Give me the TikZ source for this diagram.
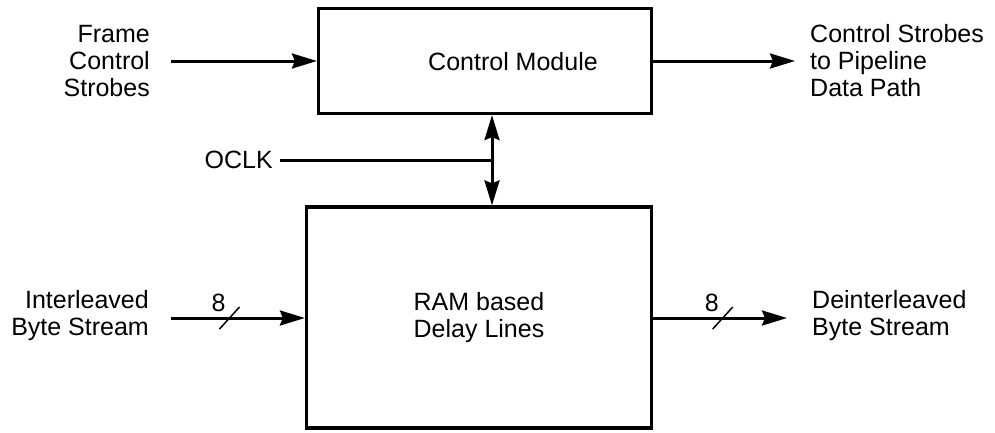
\documentclass[tikz,border=0pt]{standalone}
\usepackage{fontspec}
\setmainfont{Liberation Sans}
\usetikzlibrary{arrows.meta,positioning,calc}
\tikzset{
  blockbox/.style={draw, line width=3.2pt, inner sep=0pt, align=center},
  lbl/.style     ={inner sep=0pt},
  arr/.style     ={-{Stealth[length=25pt,width=15pt,inset=3pt]}, line width=3pt},
  dblarr/.style  ={{Stealth[length=25pt,width=15pt,inset=3pt]}-{Stealth[length=25pt,width=15pt,inset=3pt]},
                   line width=3pt},
  wire/.style    ={line width=3pt},
  busmark/.style ={line width=1.5pt},
}

\begin{document}
\begin{tikzpicture}[x=1pt,y=-1pt,font=\fontsize{25}{27}\selectfont]
  \useasboundingbox (0,0) rectangle (995,432);
  % blocks
  \node[blockbox, minimum width=333pt, minimum height=105pt] (ctrl) at (485,61) {};
  \node[lbl] (ctrltxt) at (513,62) {Control Module};
  \node[blockbox, minimum width=345pt, minimum height=221pt] (ram) at (479,317.5) {RAM based\\Delay Lines};
  % side labels
  \node[lbl, align=right, anchor=east] (fcs) at (150,61) {Frame\\Control\\Strobes};
  \node[lbl, align=left, anchor=west] (csp) at (810,61) {Control Strobes\\to Pipeline\\Data Path};
  \node[lbl, align=right, anchor=east] (ibs) at (149,316) {Interleaved\\Byte Stream};
  \node[lbl, align=left, anchor=west] (dbs) at (812,316) {Deinterleaved\\Byte Stream};
  \node[lbl, anchor=east] (oclk) at (273,160) {OCLK};
  % free ends
  \coordinate (fcsend) at (171,61);
  \coordinate (cspend) at (795,61);
  \coordinate (ibsend) at (171,318);
  \coordinate (dbsend) at (787,318);
  \coordinate (clk) at (492,160);
  % connectors
  \draw[arr] (fcsend) -- (ctrl.west);
  \draw[arr] (ctrl.east) -- (cspend);
  \draw[dblarr] (clk |- ctrl.south) -- (clk |- ram.north);
  \draw[wire, shorten <=7pt] (oclk.east) -- (clk);
  \draw[arr] (ibsend) -- coordinate[pos=0.437] (busin) (ibsend -| ram.west);
  \draw[busmark] ($(busin)+(-10,11)$) -- ($(busin)+(10,-11)$);
  \node[lbl] (wdin) at ($(busin)+(-11,-15)$) {8};
  \draw[arr] (dbsend -| ram.east) -- coordinate[pos=0.52] (busout) (dbsend);
  \draw[busmark] ($(busout)+(-10,11)$) -- ($(busout)+(10,-11)$);
  \node[lbl] (wdout) at ($(busout)+(-11,-15)$) {8};
\end{tikzpicture}
\end{document}
